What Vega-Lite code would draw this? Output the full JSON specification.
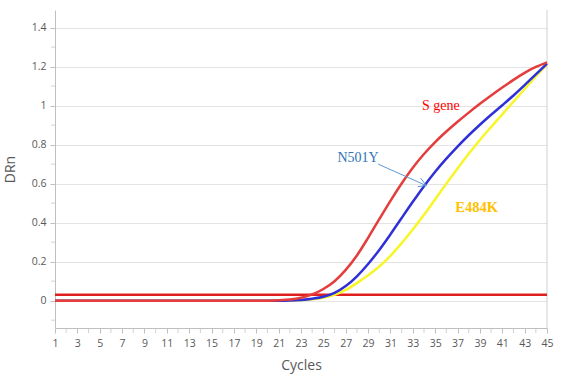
{
  "$schema": "https://vega.github.io/schema/vega-lite/v6.json",
  "width": 492,
  "height": 318,
  "autosize": {"type": "none"},
  "padding": {"left": 55, "top": 10, "right": 15, "bottom": 53},
  "background": "white",
  "config": {
    "view": {"stroke": null},
    "font": "Open Sans",
    "axis": {"labelFont": "Open Sans", "titleFont": "Open Sans", "labelColor": "#595959", "titleColor": "#595959", "titleFontWeight": "normal", "domainColor": "#bfbfbf", "tickColor": "#bfbfbf", "gridColor": "#e3e3e3", "labelFontSize": 10.5, "titleFontSize": 14},
    "axisX": {"labelOverlap": false, "labelSeparation": -20, "labelBound": false}
  },
  "datasets": {
    "curves": [
      {"cycle":1,"DRn":0,"series":"E484K"},{"cycle":2,"DRn":0,"series":"E484K"},{"cycle":3,"DRn":0,"series":"E484K"},{"cycle":4,"DRn":0,"series":"E484K"},{"cycle":5,"DRn":0,"series":"E484K"},{"cycle":6,"DRn":0,"series":"E484K"},{"cycle":7,"DRn":0,"series":"E484K"},{"cycle":8,"DRn":0,"series":"E484K"},{"cycle":9,"DRn":0,"series":"E484K"},{"cycle":10,"DRn":0,"series":"E484K"},{"cycle":11,"DRn":0,"series":"E484K"},{"cycle":12,"DRn":0,"series":"E484K"},{"cycle":13,"DRn":0,"series":"E484K"},{"cycle":14,"DRn":0,"series":"E484K"},{"cycle":15,"DRn":0,"series":"E484K"},{"cycle":16,"DRn":0,"series":"E484K"},{"cycle":17,"DRn":0,"series":"E484K"},{"cycle":18,"DRn":0,"series":"E484K"},{"cycle":19,"DRn":0,"series":"E484K"},{"cycle":20,"DRn":0,"series":"E484K"},{"cycle":21,"DRn":0,"series":"E484K"},{"cycle":22,"DRn":0.001,"series":"E484K"},{"cycle":23,"DRn":0.003,"series":"E484K"},{"cycle":24,"DRn":0.007,"series":"E484K"},{"cycle":25,"DRn":0.015,"series":"E484K"},{"cycle":26,"DRn":0.03,"series":"E484K"},{"cycle":27,"DRn":0.055,"series":"E484K"},{"cycle":28,"DRn":0.09,"series":"E484K"},{"cycle":29,"DRn":0.13,"series":"E484K"},{"cycle":30,"DRn":0.175,"series":"E484K"},{"cycle":31,"DRn":0.23,"series":"E484K"},{"cycle":32,"DRn":0.295,"series":"E484K"},{"cycle":33,"DRn":0.365,"series":"E484K"},{"cycle":34,"DRn":0.44,"series":"E484K"},{"cycle":35,"DRn":0.52,"series":"E484K"},{"cycle":36,"DRn":0.6,"series":"E484K"},{"cycle":37,"DRn":0.678,"series":"E484K"},{"cycle":38,"DRn":0.753,"series":"E484K"},{"cycle":39,"DRn":0.824,"series":"E484K"},{"cycle":40,"DRn":0.89,"series":"E484K"},{"cycle":41,"DRn":0.955,"series":"E484K"},{"cycle":42,"DRn":1.02,"series":"E484K"},{"cycle":43,"DRn":1.085,"series":"E484K"},{"cycle":44,"DRn":1.15,"series":"E484K"},{"cycle":45,"DRn":1.212,"series":"E484K"},
      {"cycle":1,"DRn":0,"series":"N501Y"},{"cycle":2,"DRn":0,"series":"N501Y"},{"cycle":3,"DRn":0,"series":"N501Y"},{"cycle":4,"DRn":0,"series":"N501Y"},{"cycle":5,"DRn":0,"series":"N501Y"},{"cycle":6,"DRn":0,"series":"N501Y"},{"cycle":7,"DRn":0,"series":"N501Y"},{"cycle":8,"DRn":0,"series":"N501Y"},{"cycle":9,"DRn":0,"series":"N501Y"},{"cycle":10,"DRn":0,"series":"N501Y"},{"cycle":11,"DRn":0,"series":"N501Y"},{"cycle":12,"DRn":0,"series":"N501Y"},{"cycle":13,"DRn":0,"series":"N501Y"},{"cycle":14,"DRn":0,"series":"N501Y"},{"cycle":15,"DRn":0,"series":"N501Y"},{"cycle":16,"DRn":0,"series":"N501Y"},{"cycle":17,"DRn":0,"series":"N501Y"},{"cycle":18,"DRn":0,"series":"N501Y"},{"cycle":19,"DRn":0,"series":"N501Y"},{"cycle":20,"DRn":0,"series":"N501Y"},{"cycle":21,"DRn":0,"series":"N501Y"},{"cycle":22,"DRn":0.001,"series":"N501Y"},{"cycle":23,"DRn":0.004,"series":"N501Y"},{"cycle":24,"DRn":0.01,"series":"N501Y"},{"cycle":25,"DRn":0.02,"series":"N501Y"},{"cycle":26,"DRn":0.04,"series":"N501Y"},{"cycle":27,"DRn":0.075,"series":"N501Y"},{"cycle":28,"DRn":0.125,"series":"N501Y"},{"cycle":29,"DRn":0.188,"series":"N501Y"},{"cycle":30,"DRn":0.26,"series":"N501Y"},{"cycle":31,"DRn":0.34,"series":"N501Y"},{"cycle":32,"DRn":0.424,"series":"N501Y"},{"cycle":33,"DRn":0.507,"series":"N501Y"},{"cycle":34,"DRn":0.587,"series":"N501Y"},{"cycle":35,"DRn":0.661,"series":"N501Y"},{"cycle":36,"DRn":0.728,"series":"N501Y"},{"cycle":37,"DRn":0.79,"series":"N501Y"},{"cycle":38,"DRn":0.848,"series":"N501Y"},{"cycle":39,"DRn":0.902,"series":"N501Y"},{"cycle":40,"DRn":0.953,"series":"N501Y"},{"cycle":41,"DRn":1.002,"series":"N501Y"},{"cycle":42,"DRn":1.052,"series":"N501Y"},{"cycle":43,"DRn":1.105,"series":"N501Y"},{"cycle":44,"DRn":1.16,"series":"N501Y"},{"cycle":45,"DRn":1.215,"series":"N501Y"},
      {"cycle":1,"DRn":0,"series":"S gene"},{"cycle":2,"DRn":0,"series":"S gene"},{"cycle":3,"DRn":0,"series":"S gene"},{"cycle":4,"DRn":0,"series":"S gene"},{"cycle":5,"DRn":0,"series":"S gene"},{"cycle":6,"DRn":0,"series":"S gene"},{"cycle":7,"DRn":0,"series":"S gene"},{"cycle":8,"DRn":0,"series":"S gene"},{"cycle":9,"DRn":0,"series":"S gene"},{"cycle":10,"DRn":0,"series":"S gene"},{"cycle":11,"DRn":0,"series":"S gene"},{"cycle":12,"DRn":0,"series":"S gene"},{"cycle":13,"DRn":0,"series":"S gene"},{"cycle":14,"DRn":0,"series":"S gene"},{"cycle":15,"DRn":0,"series":"S gene"},{"cycle":16,"DRn":0,"series":"S gene"},{"cycle":17,"DRn":0,"series":"S gene"},{"cycle":18,"DRn":0,"series":"S gene"},{"cycle":19,"DRn":0,"series":"S gene"},{"cycle":20,"DRn":0,"series":"S gene"},{"cycle":21,"DRn":0.002,"series":"S gene"},{"cycle":22,"DRn":0.006,"series":"S gene"},{"cycle":23,"DRn":0.015,"series":"S gene"},{"cycle":24,"DRn":0.032,"series":"S gene"},{"cycle":25,"DRn":0.06,"series":"S gene"},{"cycle":26,"DRn":0.1,"series":"S gene"},{"cycle":27,"DRn":0.158,"series":"S gene"},{"cycle":28,"DRn":0.232,"series":"S gene"},{"cycle":29,"DRn":0.322,"series":"S gene"},{"cycle":30,"DRn":0.418,"series":"S gene"},{"cycle":31,"DRn":0.512,"series":"S gene"},{"cycle":32,"DRn":0.601,"series":"S gene"},{"cycle":33,"DRn":0.682,"series":"S gene"},{"cycle":34,"DRn":0.752,"series":"S gene"},{"cycle":35,"DRn":0.813,"series":"S gene"},{"cycle":36,"DRn":0.867,"series":"S gene"},{"cycle":37,"DRn":0.917,"series":"S gene"},{"cycle":38,"DRn":0.964,"series":"S gene"},{"cycle":39,"DRn":1.009,"series":"S gene"},{"cycle":40,"DRn":1.052,"series":"S gene"},{"cycle":41,"DRn":1.093,"series":"S gene"},{"cycle":42,"DRn":1.132,"series":"S gene"},{"cycle":43,"DRn":1.168,"series":"S gene"},{"cycle":44,"DRn":1.198,"series":"S gene"},{"cycle":45,"DRn":1.222,"series":"S gene"}
    ],
    "labels": [
      {"cycle":35.5,"DRn":1.0,"text":"S gene","key":"S"},
      {"cycle":28.1,"DRn":0.733,"text":"N501Y","key":"N"},
      {"cycle":38.7,"DRn":0.477,"text":"E484K","key":"E"}
    ],
    "arrow": [
      {"x1":29.9,"y1":0.70,"x2":34.2,"y2":0.59},
      {"x1":33.7,"y1":0.628,"x2":34.2,"y2":0.59},
      {"x1":33.45,"y1":0.585,"x2":34.2,"y2":0.59}
    ],
    "threshold": [{"DRn":0.03}],
    "border": [{"cycle":45,"y1":-0.14,"y2":1.49}],
    "xminor": [{"c":2},{"c":4},{"c":6},{"c":8},{"c":10},{"c":12},{"c":14},{"c":16},{"c":18},{"c":20},{"c":22},{"c":24},{"c":26},{"c":28},{"c":30},{"c":32},{"c":34},{"c":36},{"c":38},{"c":40},{"c":42},{"c":44}],
    "yminor": [{"v":-0.1},{"v":0.1},{"v":0.3},{"v":0.5},{"v":0.7},{"v":0.9},{"v":1.1},{"v":1.3}]
  },
  "encoding": {
    "x": {"type": "quantitative", "scale": {"domain": [1, 45], "nice": false, "zero": false},
      "axis": {"title": "Cycles", "values": [1,3,5,7,9,11,13,15,17,19,21,23,25,27,29,31,33,35,37,39,41,43,45],
        "grid": false, "tickSize": 5, "labelPadding": 5, "titlePadding": 10, "labelFlush": false, "labelOverlap": false, "labelBound": false}},
    "y": {"type": "quantitative", "scale": {"domain": [-0.14, 1.49], "nice": false, "zero": false},
      "axis": {"title": "DRn", "values": [0, 0.2, 0.4, 0.6, 0.8, 1, 1.2, 1.4], "format": "~g", "tickSize": 5, "labelPadding": 4, "titlePadding": 14, "grid": true}}
  },
  "layer": [
    {
      "data": {"name": "border"},
      "mark": {"type": "rule", "color": "#d0d0d0", "strokeWidth": 1},
      "encoding": {"x": {"field": "cycle"}, "y": {"field": "y1"}, "y2": {"field": "y2"}}
    },
    {
      "data": {"name": "yminor"},
      "mark": {"type": "tick", "orient": "horizontal", "color": "#bfbfbf", "size": 4, "thickness": 1, "xOffset": -2},
      "encoding": {"y": {"field": "v"}, "x": {"datum": 1}}
    },
    {
      "data": {"name": "xminor"},
      "mark": {"type": "tick", "orient": "vertical", "color": "#bfbfbf", "size": 5, "thickness": 1, "yOffset": 2.5},
      "encoding": {"x": {"field": "c"}, "y": {"datum": -0.14}}
    },
    {
      "data": {"name": "threshold"},
      "mark": {"type": "rule", "color": "#e0201e", "strokeWidth": 2.5},
      "encoding": {"y": {"field": "DRn"}, "x": null}
    },
    {
      "data": {"name": "curves"},
      "transform": [{"filter": "datum.series == 'E484K'"}],
      "mark": {"type": "line", "interpolate": "monotone", "color": "#f8f52a", "strokeWidth": 2.5},
      "encoding": {"x": {"field": "cycle"}, "y": {"field": "DRn"}}
    },
    {
      "data": {"name": "curves"},
      "transform": [{"filter": "datum.series == 'N501Y'"}],
      "mark": {"type": "line", "interpolate": "monotone", "color": "#3030d8", "strokeWidth": 2.5},
      "encoding": {"x": {"field": "cycle"}, "y": {"field": "DRn"}}
    },
    {
      "data": {"name": "curves"},
      "transform": [{"filter": "datum.series == 'S gene'"}],
      "mark": {"type": "line", "interpolate": "monotone", "color": "#e53c3c", "strokeWidth": 2.5},
      "encoding": {"x": {"field": "cycle"}, "y": {"field": "DRn"}}
    },
    {
      "data": {"name": "arrow"},
      "mark": {"type": "rule", "color": "#5b9bd5", "strokeWidth": 1},
      "encoding": {"x": {"field": "x1"}, "y": {"field": "y1"}, "x2": {"field": "x2"}, "y2": {"field": "y2"}}
    },
    {
      "data": {"name": "labels"},
      "transform": [{"filter": "datum.key == 'S'"}],
      "mark": {"type": "text", "font": "Liberation Serif", "fontSize": 14, "color": "#ff0000", "align": "center", "baseline": "middle"},
      "encoding": {"x": {"field": "cycle"}, "y": {"field": "DRn"}, "text": {"field": "text"}}
    },
    {
      "data": {"name": "labels"},
      "transform": [{"filter": "datum.key == 'N'"}],
      "mark": {"type": "text", "font": "Liberation Serif", "fontSize": 14, "color": "#2e75b6", "align": "center", "baseline": "middle"},
      "encoding": {"x": {"field": "cycle"}, "y": {"field": "DRn"}, "text": {"field": "text"}}
    },
    {
      "data": {"name": "labels"},
      "transform": [{"filter": "datum.key == 'E'"}],
      "mark": {"type": "text", "font": "Liberation Serif", "fontSize": 14.5, "fontWeight": "bold", "color": "#ffc000", "align": "center", "baseline": "middle"},
      "encoding": {"x": {"field": "cycle"}, "y": {"field": "DRn"}, "text": {"field": "text"}}
    }
  ]
}
